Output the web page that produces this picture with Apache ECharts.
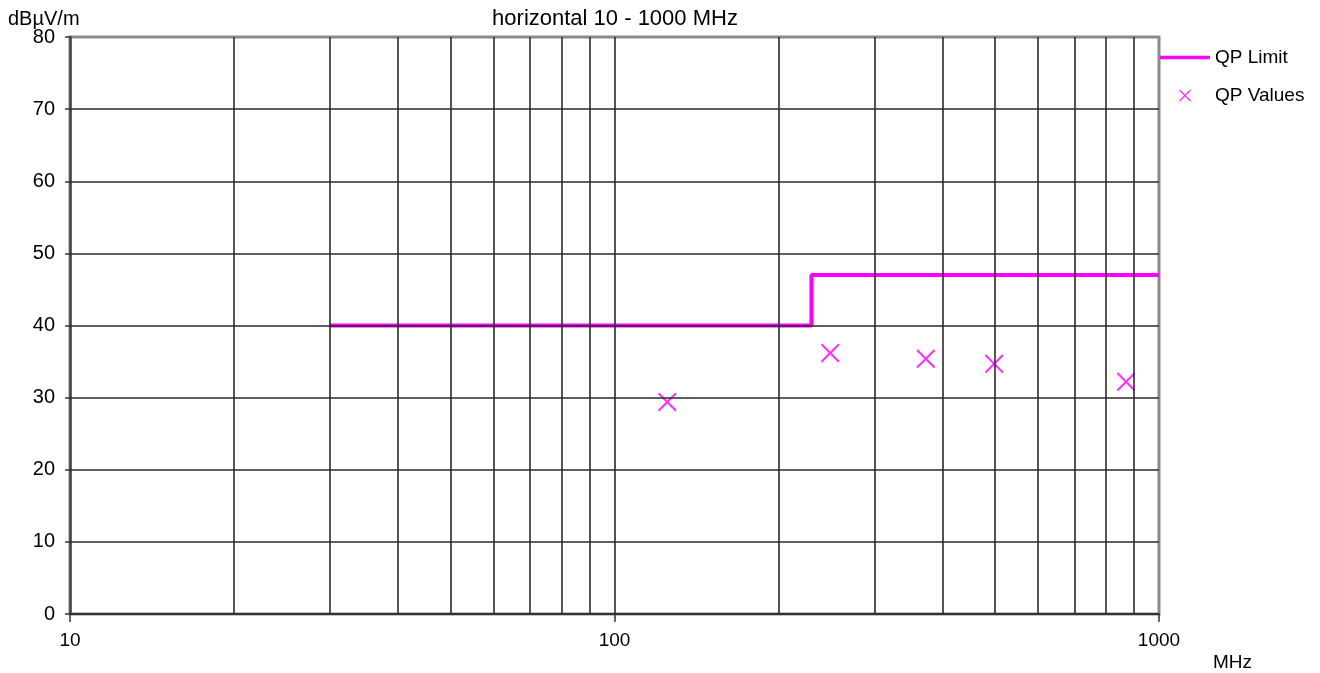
<!DOCTYPE html>
<html>
<head>
<meta charset="utf-8">
<script src="https://cdn.jsdelivr.net/npm/echarts@6/dist/echarts.min.js"></script>
<style>html,body{margin:0;padding:0;background:#fff}#c{width:1320px;height:673px}</style>
</head>
<body>
<div id="c"></div>
<script>
// ---- data ----
const limitFreq = [30, 230, 230, 1000];
const limitLevel = [40, 40, 47, 47];
const qpFreq = [125, 249, 373, 498, 870];
const qpLevel = [29.4, 36.2, 35.4, 34.7, 32.2];
const verticalGridFreq = [20, 30, 40, 50, 60, 70, 80, 90, 100, 200, 300, 400, 500, 600, 700, 800, 900];
const horizontalGridLevel = [10, 20, 30, 40, 50, 60, 70];
const titleText = 'horizontal 10 - 1000 MHz';
const yUnit = 'dBµV/m';
const xUnit = 'MHz';

const FONT = '"Liberation Sans", Arial, sans-serif';
const MAG = '#ff00ff';
const GRIDC = '#2a2a2a';
const X_SYMBOL = 'path://M0,0.8 L0.8,0 L5,4.2 L9.2,0 L10,0.8 L5.8,5 L10,9.2 L9.2,10 L5,5.8 L0.8,10 L0,9.2 L4.2,5 Z';
const LINE_ICON = 'path://M0,0 L50,0 L50,3.5 L0,3.5 Z';

const chart = echarts.init(document.getElementById('c'), null, {renderer: 'canvas'});
chart.setOption({
  animation: false,
  backgroundColor: '#fff',
  grid: {left: 70, right: 161, top: 37, bottom: 59, show: true, borderColor: '#8a8a8a', borderWidth: 3},
  graphic: [
    {type: 'text', x: 615, y: 8, style: {text: titleText, font: '22px ' + FONT, fill: '#000', textAlign: 'center'}},
    {type: 'text', x: 8, y: 9, style: {text: yUnit, font: '20px ' + FONT, fill: '#000'}},
    {type: 'text', x: 1213, y: 653, style: {text: xUnit, font: '19px ' + FONT, fill: '#000'}}
  ],
  legend: {
    orient: 'vertical', left: 1155, top: 43, itemWidth: 50, itemHeight: 12, itemGap: 19,
    textStyle: {fontFamily: FONT, fontSize: 19, color: '#000'},
    data: [
      {name: 'QP Limit', icon: LINE_ICON, itemStyle: {color: MAG}},
      {name: 'QP Values', icon: X_SYMBOL, itemStyle: {color: MAG}}
    ]
  },
  xAxis: {
    type: 'log', logBase: 10, min: 10, max: 1000,
    axisLine: {show: true, onZero: false, lineStyle: {color: '#333', width: 2}},
    axisTick: {show: true, length: 8, lineStyle: {color: '#333', width: 1.5}},
    axisLabel: {fontFamily: FONT, fontSize: 19, color: '#000', margin: 17, formatter: v => String(Math.round(v))},
    splitLine: {show: false},
    minorTick: {show: false}, minorSplitLine: {show: false}
  },
  yAxis: {
    type: 'value', min: 0, max: 80, interval: 10,
    axisLine: {show: true, lineStyle: {color: '#444', width: 2.5}},
    axisTick: {show: true, length: 5, lineStyle: {color: '#333', width: 1.5}},
    axisLabel: {fontFamily: FONT, fontSize: 20, color: '#000', margin: 15},
    splitLine: {show: false}
  },
  series: [
    {
      name: 'grid', type: 'line', data: [], z: 1, silent: true,
      markLine: {
        silent: true, symbol: 'none', label: {show: false}, animation: false,
        lineStyle: {color: GRIDC, width: 1.6, type: 'solid'},
        data: verticalGridFreq.map(f => ({xAxis: f})).concat(horizontalGridLevel.map(v => ({yAxis: v})))
      }
    },
    {
      name: 'QP Limit', type: 'line', z: 3, symbol: 'none', showSymbol: false,
      lineStyle: {color: MAG, width: 4}, itemStyle: {color: MAG},
      data: limitFreq.map((f, i) => [f, limitLevel[i]])
    },
    {
      name: 'QP Values', type: 'scatter', z: 4, symbol: X_SYMBOL, symbolSize: 19,
      itemStyle: {color: MAG},
      data: qpFreq.map((f, i) => [f, qpLevel[i]])
    }
  ]
});
</script>
</body>
</html>
